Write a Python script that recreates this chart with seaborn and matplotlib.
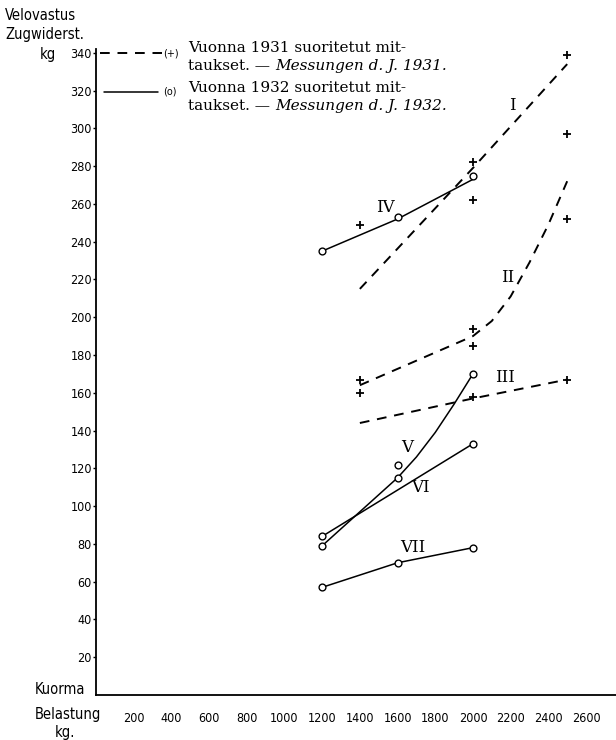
import matplotlib
matplotlib.use("Agg")
import matplotlib.pyplot as plt
import pandas as pd
import seaborn as sns

# ---- data ----
# drawn curves (1931 dashed: I, II, III; 1932 solid: IV..VII)
curve_I_x = [1400, 2000, 2500]
curve_I_y = [215, 279, 334]
curve_II_x = [1400, 2000, 2100, 2200, 2300, 2400, 2500]
curve_II_y = [164, 190, 198, 211, 229, 249, 272]
curve_III_x = [1400, 2000, 2500]
curve_III_y = [144, 157, 167]
curve_IV_x = [1200, 1600, 2000]
curve_IV_y = [235, 252, 273]
curve_V_x = [1200, 1400, 1600, 1700, 1800, 1900, 2000]
curve_V_y = [79, 97, 115, 126, 139, 154, 170]
curve_VI_x = [1200, 2000]
curve_VI_y = [84, 133]
curve_VII_x = [1200, 1600, 2000]
curve_VII_y = [57, 70, 78]

# measurement marks: 1931 (+), 1932 (o)
plus_x = [2500, 2000, 2000, 2500, 2500, 1400, 1400, 1400, 2000, 2000, 2000, 2500]
plus_y = [339, 282, 262, 297, 252, 249, 167, 160, 194, 185, 158, 167]
circ_x = [1200, 1600, 2000, 1200, 1600, 1600, 2000, 1200, 2000, 1200, 1600, 2000]
circ_y = [235, 253, 275, 79, 115, 122, 170, 84, 133, 57, 70, 78]

# curve labels
label_text = ["I", "II", "III", "IV", "V", "VI", "VII"]
label_x = [2207, 2186, 2170, 1533, 1650, 1719, 1682]
label_y = [312, 221, 168, 258, 131, 110, 78]

x_ticks = [200, 400, 600, 800, 1000, 1200, 1400, 1600, 1800, 2000, 2200, 2400, 2600]
y_ticks = list(range(20, 341, 20))

# ---- figure ----
sns.set_theme(style="white")
plt.rcParams["font.family"] = ["DejaVu Sans"]
plt.rcParams["text.color"] = "black"
plt.rcParams["xtick.color"] = "black"
plt.rcParams["ytick.color"] = "black"

fig = plt.figure(figsize=(6.16, 7.4), dpi=100)
ax = fig.add_axes([96 / 616, 45 / 740, 520 / 616, 646 / 740])

curves = [
    ("I", curve_I_x, curve_I_y, "dashed"),
    ("II", curve_II_x, curve_II_y, "dashed"),
    ("III", curve_III_x, curve_III_y, "dashed"),
    ("IV", curve_IV_x, curve_IV_y, "solid"),
    ("V", curve_V_x, curve_V_y, "solid"),
    ("VI", curve_VI_x, curve_VI_y, "solid"),
    ("VII", curve_VII_x, curve_VII_y, "solid"),
]
for name, xs, ys, style in curves:
    df = pd.DataFrame({"x": xs, "y": ys})
    if style == "dashed":
        sns.lineplot(data=df, x="x", y="y", ax=ax, sort=False, estimator=None,
                     color="black", lw=1.4)
        ax.lines[-1].set_dashes([5, 4])
    else:
        sns.lineplot(data=df, x="x", y="y", ax=ax, sort=False, estimator=None,
                     color="black", lw=1.1)
    ax.lines[-1].set_solid_joinstyle("round")

sns.scatterplot(x=plus_x, y=plus_y, ax=ax, marker="+", s=30, color="black",
                linewidth=1.3, zorder=5)
sns.scatterplot(x=circ_x, y=circ_y, ax=ax, marker="o", s=24, facecolor="white",
                edgecolor="black", linewidth=1.0, zorder=6)

for t, lx, ly in zip(label_text, label_x, label_y):
    ax.text(lx, ly, t, ha="center", va="center", fontsize=12,
            family="DejaVu Serif", color="black")

ax.set_xlim(0, 2759)
ax.set_ylim(0, 342)
ax.set_xticks(x_ticks)
ax.set_xticklabels([str(v) for v in x_ticks])
ax.set_yticks(y_ticks)
ax.set_yticklabels([str(v) for v in y_ticks])
ax.tick_params(axis="x", length=0, pad=12, labelsize=9)
ax.tick_params(axis="y", length=2, width=1, direction="out", pad=1, labelsize=9,
               left=True, color="black")
for lab in ax.get_xticklabels() + ax.get_yticklabels():
    lab.set_fontstretch("condensed")
    lab.set_color("black")
ax.set_xlabel("")
ax.set_ylabel("")
for side in ["top", "right"]:
    ax.spines[side].set_visible(False)
for side in ["left", "bottom"]:
    ax.spines[side].set_color("black")
    ax.spines[side].set_linewidth(1.3)

# axis titles
def fx(px):
    return px / 616

def fy(py):
    return 1 - py / 740

head = dict(fontsize=10.5, fontstretch="condensed", va="center", ha="left", color="black")
fig.text(fx(5), fy(15), "Velovastus", **head)
fig.text(fx(5), fy(35), "Zugwiderst.", **head)
fig.text(fx(40), fy(55), "kg", **head)
fig.text(fx(35), fy(690), "Kuorma", **head)
fig.text(fx(35), fy(715), "Belastung", **head)
fig.text(fx(55), fy(733), "kg.", **head)

# legend (drawn by hand, like the original)
fig.add_artist(plt.Line2D([fx(100), fx(162)], [fy(53), fy(53)], color="black",
                          lw=1.4, dashes=[5, 4]))
fig.add_artist(plt.Line2D([fx(104), fx(158)], [fy(92), fy(92)], color="black", lw=1.1))
fig.text(fx(163), fy(53), "(+)", fontsize=7, va="center", ha="left", color="black")
fig.text(fx(163), fy(92), "(o)", fontsize=7, va="center", ha="left", color="black")

serif = "DejaVu Serif"
fs = 11
for y1, y2, yr in [(48, 66, "1931"), (88, 106, "1932")]:
    fig.text(fx(188), fy(y1), f"Vuonna {yr} suoritetut mit-", fontsize=fs,
             family=serif, va="center", ha="left", color="black")
    t2 = fig.text(fx(188), fy(y2), "taukset. — ", fontsize=fs,
                  family=serif, va="center", ha="left", color="black")
    ax.annotate(f"Messungen d. J. {yr}.", xy=(1, 0.5), xycoords=t2,
                va="center", ha="left", fontsize=fs, family=serif,
                fontstyle="italic", annotation_clip=False, color="black")

fig.savefig("out.png", dpi=100)
